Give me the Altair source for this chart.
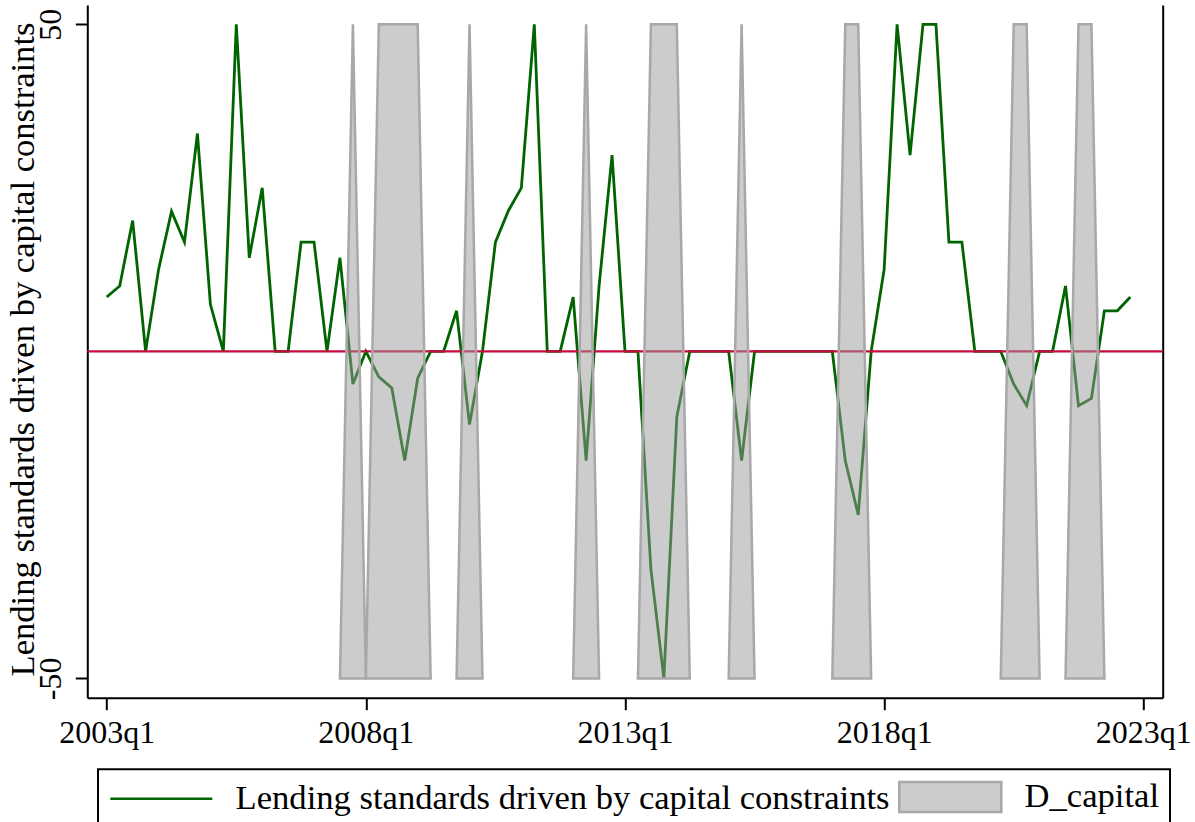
import altair as alt
import pandas as pd

# Quarterly series, 2003q1 .. 2022q4
start_year = 2003
series_label = "Lending standards driven by capital constraints"
dummy_label = "D_capital"

lending = [8.3, 10.0, 20.0, 0, 12.5, 21.4, 16.7, 33.3, 7.2, 0,
           50, 14.3, 25, 0, 0, 16.7, 16.7, 0, 14.3, -5.0,
           0, -3.9, -5.6, -16.7, -4.1, 0, 0, 6.2, -11.2, 0,
           16.7, 21.5, 25, 50, 0, 0, 8.3, -16.7, 10.0, 30.0,
           0, 0, -33.3, -50, -10, 0, 0, 0, 0, -16.7,
           0, 0, 0, 0, 0, 0, 0, -16.7, -25, 0,
           12.5, 50, 30, 50, 50, 16.7, 16.7, 0, 0, 0,
           -5.0, -8.3, 0, 0, 10.0, -8.3, -7.2, 6.2, 6.2, 8.3]

d_capital = [0, 0, 0, 0, 0, 0, 0, 0, 0, 0,
             0, 0, 0, 0, 0, 0, 0, 0, 0, 1,
             0, 1, 1, 1, 1, 0, 0, 0, 1, 0,
             0, 0, 0, 0, 0, 0, 0, 1, 0, 0,
             0, 0, 1, 1, 1, 0, 0, 0, 0, 1,
             0, 0, 0, 0, 0, 0, 0, 1, 1, 0,
             0, 0, 0, 0, 0, 0, 0, 0, 0, 0,
             1, 1, 0, 0, 0, 1, 1, 0, 0, 0]

y_lo, y_hi = -50, 50
tick_quarters = [0, 20, 40, 60, 80]

FONT = "Liberation Serif"
GREEN = "#006400"
RED = "#c80a3c"
SHADE = "#999999"
SHADE_EDGE = "#a8a8a8"
TEXT_SIZE = 34.6

line_df = pd.DataFrame({
    "t": list(range(len(lending))),
    "value": lending,
})

# Each run of D_capital == 1 becomes its own polygon: it rises from the
# bottom of the axis in the quarter before and falls back in the quarter after.
rows = []
n = len(d_capital)
ep = 0
t = 0
while t < n:
    if d_capital[t]:
        s = t
        while t + 1 < n and d_capital[t + 1]:
            t += 1
        e = t
        ep += 1
        rows.append({"t": s - 1, "v": y_lo, "ep": ep})
        for k in range(s, e + 1):
            rows.append({"t": k, "v": y_lo + d_capital[k] * (y_hi - y_lo), "ep": ep})
        rows.append({"t": e + 1, "v": y_lo, "ep": ep})
    t += 1
area_df = pd.DataFrame(rows)
area_df["base"] = y_lo

zero_df = pd.DataFrame({"zero": [0]})
key_df = pd.DataFrame({"series": [series_label, dummy_label]})

x_scale = alt.Scale(domain=[-1.5, 81.5], nice=False, zero=False)
y_scale = alt.Scale(domain=[-52.95, 52.95], nice=False, zero=False)

x_axis = alt.Axis(
    values=tick_quarters,
    labelExpr=f"({start_year} + floor(datum.value / 4)) + 'q' + (datum.value % 4 + 1)",
    title=None, grid=False, tickSize=12, tickWidth=2, domainWidth=2,
    labelFontSize=32, labelPadding=8, labelFont=FONT,
)
x_enc = alt.X("t:Q", scale=x_scale, axis=x_axis)

left_axis = alt.Axis(
    values=[y_lo, y_hi], grid=False, tickSize=12, tickWidth=2, domainWidth=2,
    labelExpr="(datum.value < 0 ? '-' : '') + abs(datum.value)",
    labelAngle=270, labelAlign="center", labelBaseline="alphabetic",
    labelFontSize=32, labelPadding=15, labelFont=FONT,
    title=series_label, titleFont=FONT, titleFontSize=TEXT_SIZE, titleFontWeight="normal",
    titleAngle=270, titleAlign="center", titleBaseline="alphabetic",
    titleX=-54, titleY=344,
)
right_axis = alt.Axis(
    orient="right", labels=False, ticks=False, grid=False, title=None, domainWidth=2,
)

line = alt.Chart(line_df).mark_line(strokeWidth=2.8, color=GREEN).encode(
    x=x_enc,
    y=alt.Y("value:Q", scale=y_scale, axis=None),
)

zero_rule = alt.Chart(zero_df).mark_rule(color=RED, strokeWidth=2.2).encode(
    y=alt.Y("zero:Q", scale=y_scale, axis=right_axis),
)

shade = alt.Chart(area_df).mark_area(
    color=SHADE, fillOpacity=0.5, stroke=SHADE_EDGE, strokeWidth=2.5, interpolate="linear"
).encode(
    x=x_enc,
    y=alt.Y("v:Q", scale=y_scale, axis=left_axis),
    y2="base:Q",
    detail="ep:N",
)

# Legend key: a line for the series, a filled box for the dummy.
# Paths start at the entry's left edge and run about 100px wide.
key_line = "M-1,0L5.8,0"
key_box = "M-1,-1L5.8,-1L5.8,1L-1,1Z"
legend = alt.Legend(
    title=None, orient="none", legendX=10.7, legendY=764.3, direction="horizontal",
    labelFont=FONT, labelFontSize=TEXT_SIZE, labelLimit=2000, labelOffset=93, labelColor="black",
    symbolSize=900, symbolStrokeWidth=2.5, symbolFillColor="#cccccc", symbolOpacity=1,
    columnPadding=4, padding=10, strokeColor="black",
)
key = alt.Chart(key_df).mark_point(
    filled=True, fill="#cccccc", strokeWidth=2.5, opacity=1
).encode(
    shape=alt.Shape("series:N", scale=alt.Scale(domain=[series_label, dummy_label],
                                                  range=[key_line, key_box]), legend=legend),
    stroke=alt.Stroke("series:N", scale=alt.Scale(domain=[series_label, dummy_label],
                                                    range=[GREEN, SHADE_EDGE]), legend=legend),
).transform_filter("false")

legend_cfg = {}
try:
    alt.LegendConfig(strokeWidth=2).to_dict()
    legend_cfg["strokeWidth"] = 2
except Exception:
    pass

chart = alt.layer(line, zero_rule, shade, key).resolve_axis(y="independent").properties(
    width=1075.4,
    height=692.7,
    padding={"left": 87.3, "top": 5, "right": 32.3, "bottom": 124.3},
    autosize=alt.AutoSizeParams(type="none"),
).configure_view(strokeWidth=0).configure_axis(
    domainColor="black", tickColor="black", labelColor="black", titleColor="black",
)
if legend_cfg:
    chart = chart.configure_legend(**legend_cfg)

chart.save("out.html", embed_options={"renderer": "svg", "actions": False})
